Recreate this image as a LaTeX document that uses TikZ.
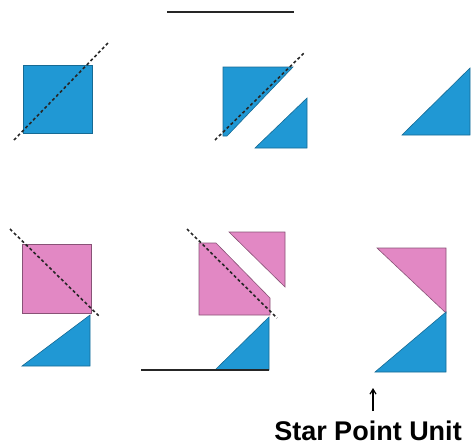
\documentclass[tikz,border=0pt]{standalone}
\usepackage{fontspec}
\setsansfont{Liberation Sans}
\usetikzlibrary{arrows.meta}
\definecolor{QuiltBlue}{RGB}{32,152,212}
\definecolor{QuiltPink}{RGB}{226,136,196}
\begin{document}
\begin{tikzpicture}[x=1pt, y=-1pt]
    \tikzset{
        bluepiece/.style={fill=QuiltBlue, draw=QuiltBlue!70!black, line width=0.6pt},
        pinkpiece/.style={fill=QuiltPink, draw=QuiltPink!60!black, line width=0.6pt},
        cutline/.style={draw=black!85, line width=1.6pt, dash pattern=on 3pt off 2.5pt},
        edgeline/.style={draw=black!85, line width=1.6pt}
    }
    \useasboundingbox (0,0) rectangle (476,447);
    % top row: blue square, cut, triangle
    \fill[bluepiece] (23,65) rectangle (92,133);
    \draw[cutline] (14,140) -- (108,43);
    \draw[edgeline] (167,12) -- (294,12);
    \fill[bluepiece] (223,67) -- (293,67) -- (227,136) -- (223,136) -- cycle;
    \fill[bluepiece] (255,148) -- (307,148) -- (307,98) -- cycle;
    \draw[cutline] (215,140) -- (304,53);
    \fill[bluepiece] (402,135) -- (470,135) -- (470,68) -- cycle;
    % bottom row: pink square sewn on
    \fill[pinkpiece] (22,244) rectangle (91,313);
    \fill[bluepiece] (22,366) -- (90,366) -- (90,315) -- cycle;
    \draw[cutline] (10,229) -- (100,317);
    \fill[pinkpiece] (199,243) -- (216,243) -- (270,298) -- (270,315) -- (199,315) -- cycle;
    \fill[pinkpiece] (229,232) -- (285,232) -- (285,287) -- cycle;
    \fill[bluepiece] (215,370) -- (269,370) -- (269,317) -- cycle;
    \draw[cutline] (187,229) -- (277,318);
    \draw[edgeline] (141,370) -- (269,370);
    \fill[pinkpiece] (377,248) -- (446,248) -- (446,313) -- cycle;
    \fill[bluepiece] (375,372) -- (446,372) -- (446,312) -- cycle;
    % label
    \node[font=\fontsize{27}{29}\selectfont\sffamily\bfseries, anchor=base, inner sep=1pt] (unitlabel) at (368,440) {Star Point Unit};
    \coordinate (arrowfoot) at (373,411);
    \draw[line width=1.2pt, -{Straight Barb[length=5pt, width=6pt]}] (arrowfoot) -- ++(0,-23);
\end{tikzpicture}
\end{document}
